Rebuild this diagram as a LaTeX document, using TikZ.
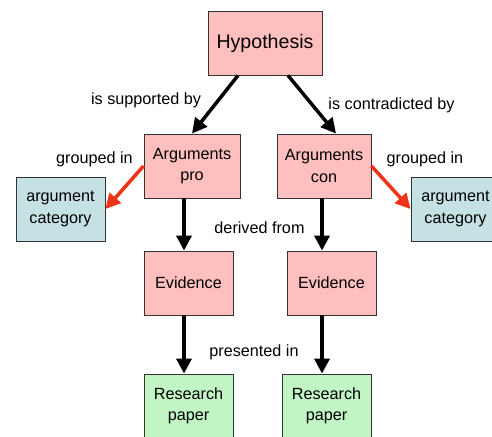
\documentclass[tikz,border=0pt]{standalone}
\usepackage{fontspec}
\setmainfont{Liberation Sans}
\usetikzlibrary{arrows.meta,calc}

\definecolor{pinkbox}{HTML}{FFBFBF}
\definecolor{bluebox}{HTML}{C6E1E4}
\definecolor{greenbox}{HTML}{C1F6C4}
\definecolor{redarrow}{HTML}{EE3319}

\begin{document}
\begin{tikzpicture}[x=1pt, y=-1pt,
  box/.style={draw=black!80, line width=0.9pt, minimum width=89pt, minimum height=64pt,
              align=center, font=\fontsize{16.2}{21.5}\selectfont, inner sep=0pt},
  pinknode/.style={box, fill=pinkbox},
  bluenode/.style={box, fill=bluebox},
  greennode/.style={box, fill=greenbox},
  lbl/.style={font=\fontsize{16.2}{19}\selectfont, inner sep=0pt},
  arr/.style={-{Triangle[length=15pt,width=15pt]}, line width=3.5pt},
  redarr/.style={arr, draw=redarrow, fill=redarrow}]

\clip (0,0) rectangle (492,436);
\fill[white] (0,0) rectangle (492,436);

\node[pinknode, minimum width=114pt, font=\fontsize{19.6}{23}\selectfont] at (265, 43) (hyp) {Hypothesis};
\node[pinknode, minimum width=96pt] at (192, 166) (pro) {Arguments\\pro};
\node[pinknode, minimum width=94pt] at (324, 166) (con) {Arguments\\con};
\node[bluenode] at (60.5, 209) (catpro) {argument\\category};
\node[bluenode] at (455.5, 209) (catcon) {argument\\category};
\node[pinknode] at (188.5, 283) (evpro) {Evidence};
\node[pinknode] at (331.5, 283) (evcon) {Evidence};
\node[greennode] at (188.5, 406) (paperpro) {Research\\paper};
\node[greennode] at (326.5, 406) (papercon) {Research\\paper};

% labels
\node[lbl] at (146, 100) (lblsup) {is supported by};
\node[lbl] at (391.5, 105) (lblcon) {is contradicted by};
\node[lbl] at (94.5, 159) (lblgrpro) {grouped in};
\node[lbl] at (425, 159) (lblgrcon) {grouped in};
\node[lbl] at (259.5, 228) (lblder) {derived from};
\node[lbl] at (254, 352) (lblpres) {presented in};

    \draw [arr] ($(hyp.south)+(-27,0)$) -- (pro.north);
    \draw [arr] ($(hyp.south)+(23,0)$) -- ($(con.north)+(12,0)$);
    \draw [redarr] (pro.west) -- (catpro.east);
    \draw [redarr] (con.east) -- (catcon.west);
    \draw [arr] ($(pro.south)+(-8,0)$) -- ($(evpro.north)+(-4.5,0)$);
    \draw [arr] ($(con.south)+(-2,0)$) -- ($(evcon.north)+(-9.5,0)$);
    \draw [arr] ($(evpro.south)+(-4.5,0)$) -- ($(paperpro.north)+(-4.5,0)$);
    \draw [arr] ($(evcon.south)+(-9.5,0)$) -- ($(papercon.north)+(-4.5,0)$);
\end{tikzpicture}
\end{document}
